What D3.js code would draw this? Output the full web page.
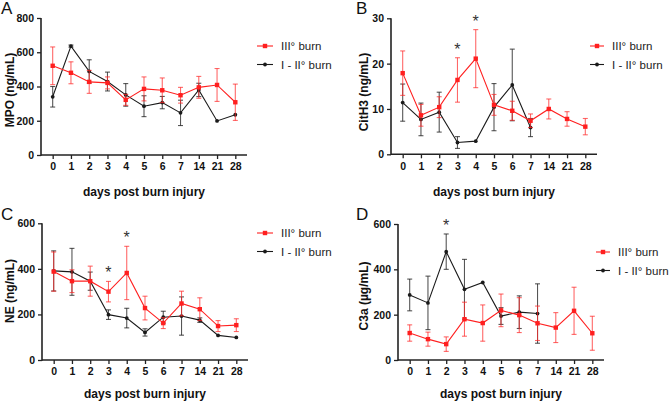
<!DOCTYPE html>
<html><head><meta charset="utf-8">
<script src="https://cdn.jsdelivr.net/npm/d3@7"></script>
<style>
body{margin:0;background:#fff;}
svg{display:block;font-family:"Liberation Sans",Arial,sans-serif;}
</style></head><body>
<svg id="chart" width="669" height="403"></svg>
<script>
// ---------- DATA ----------
const days = ["0","1","2","3","4","5","6","7","14","21","28"];
const seriesNames = ["III° burn", "I - II° burn"];
const xTitle = "days post burn injury";

// A: MPO (ng/mL)
const mpoIII    = [521, 480, 427, 421, 322, 386, 378, 349, 395, 409, 308];
const mpoIIIErr = [110,  64,  67,  35,  32,  70,  72,  46,  64,  96, 106];
const mpoI      = [340, 636, 488, 429, 351, 285, 306, 246, 380, 199, 235];
const mpoIErr   = [ 60,   6,  68,  55,  66,  61,  36,  74,  39,   0,   0];
const mpoTicks  = [0, 200, 400, 600, 800];

// B: CitH3 (ng/mL)
const cit3III    = [17.9, 8.6, 10.4, 16.4, 21.1, 10.9, 9.6, 7.4, 10.0, 7.8, 6.1];
const cit3IIIErr = [ 4.9, 2.4,  2.3,  4.9,  6.4,  2.3, 2.1, 1.5,  2.2, 1.6, 1.8];
const cit3I      = [11.4, 7.7,  9.3,  2.6,  2.9, 10.4, 15.3, 5.9, null, null, null];
const cit3IErr   = [ 4.1, 3.6,  4.4,  1.3,  0,    5.2,  7.9, 2.0, null, null, null];
const cit3Ticks  = [0, 10, 20, 30];

// C: NE (ng/mL)
const neIII    = [388, 346, 346, 300, 382, 228, 162, 248, 223, 149, 153];
const neIIIErr = [ 86,  50,  66,  45, 117,  52,  24,  54,  50,  24,  28];
const neI      = [391, 387, 346, 199, 184, 121, 188, 193, 175, 108,  99];
const neIErr   = [ 88, 103,  40,  21,  43,  16,  26,  84,  10,   0,   0];
const neTicks  = [0, 200, 400, 600];

// D: C3a (µg/mL)
const c3aIII    = [119,  92,  70, 180, 163, 219, 198, 162, 143, 217, 118];
const c3aIIIErr = [ 36,  31,  32,  75,  80,  72,  77,  76,  66, 104,  75];
const c3aI      = [287, 252, 478, 312, 342, 194, 211, 205, null, null, null];
const c3aIErr   = [ 70, 118,  78, 132,   0,  37,  72, 131, null, null, null];
const c3aTicks  = [0, 200, 400, 600];

// significance markers
const sigB = ["3", "4"];
const sigC = ["3", "4"];
const sigD = ["2"];

// ---------- LAYOUT ----------
const RED = "#ff1f1f", RED_ERR = "rgba(255,40,40,0.7)";
const BLK = "#1a1a1a", BLK_ERR = "rgba(30,30,30,0.75)";
const svg = d3.select("#chart");

const panels = [
  {letter:"A", lx:1,   ly:14,  x0:41,  x1:247, yTop:18,   yBot:155, ymax:800, ticks:mpoTicks,
   title:"MPO (ng/mL)", tx:10, ty:90,
   red:mpoIII, redErr:mpoIIIErr, blk:mpoI, blkErr:mpoIErr, sig:[],
   legX:257, legY:46, xlabY:196},
  {letter:"B", lx:356, ly:14,  x0:391, x1:597, yTop:18.3, yBot:154.3, ymax:30, ticks:cit3Ticks,
   title:"CitH3 (ng/mL)", tx:364, ty:92,
   red:cit3III, redErr:cit3IIIErr, blk:cit3I, blkErr:cit3IErr, sig:sigB,
   legX:590, legY:46, legLen:14, xlabY:196},
  {letter:"C", lx:1,   ly:220, x0:42,  x1:248, yTop:223.3, yBot:360, ymax:600, ticks:neTicks,
   title:"NE (ng/mL)", tx:10, ty:291,
   red:neIII, redErr:neIIIErr, blk:neI, blkErr:neIErr, sig:sigC,
   legX:257, legY:233, xlabY:398},
  {letter:"D", lx:356, ly:220, x0:398, x1:604, yTop:224, yBot:360, ymax:600, ticks:c3aTicks,
   title:"C3a (µg/mL)", tx:364, ty:296,
   red:c3aIII, redErr:c3aIIIErr, blk:c3aI, blkErr:c3aIErr, sig:sigD,
   legX:596, legY:252, legLen:14, xlabY:398}
];

panels.forEach(p => {
  const g = svg.append("g");
  const x = d3.scalePoint().domain(days).range([p.x0, p.x1]).padding(0.64);
  const y = d3.scaleLinear().domain([0, p.ymax]).range([p.yBot, p.yTop]);

  // panel letter
  g.append("text").attr("x", p.lx).attr("y", p.ly).attr("font-size", 17)
    .attr("fill", "#111").text(p.letter);

  // axes
  const ya = g.append("g").attr("transform", `translate(${p.x0},0)`)
    .call(d3.axisLeft(y).tickValues(p.ticks).tickSize(4).tickSizeOuter(0).tickPadding(3));
  const xa = g.append("g").attr("transform", `translate(0,${p.yBot})`)
    .call(d3.axisBottom(x).tickSize(4).tickSizeOuter(0).tickPadding(4));
  [ya, xa].forEach(a => {
    a.select(".domain").attr("stroke", "#222").attr("stroke-width", 1.6);
    a.selectAll(".tick line").attr("stroke", "#222").attr("stroke-width", 1.3);
    a.selectAll(".tick text").attr("font-size", 10.5).attr("font-weight", "bold")
      .attr("fill", "#111").attr("font-family", "Liberation Sans, Arial, sans-serif");
  });
  ya.select(".domain").attr("d", `M0,${p.yBot + 0.8}V${p.yTop}`);
  xa.select(".domain").attr("d", `M${p.x0},0H${p.x1}`);

  // axis titles
  g.append("text").attr("transform", `translate(${p.tx},${p.ty}) rotate(-90)`)
    .attr("text-anchor", "middle").attr("dominant-baseline", "central")
    .attr("font-size", 12).attr("font-weight", "bold").attr("fill", "#111").text(p.title);
  g.append("text").attr("x", (p.x0 + p.x1) / 2).attr("y", p.xlabY)
    .attr("text-anchor", "middle").attr("font-size", 12).attr("font-weight", "bold")
    .attr("fill", "#111").text(xTitle);

  // series
  const drawSeries = (vals, errs, color, errColor, marker) => {
    const pts = days.map((d, i) => ({d, v: vals[i], e: errs[i]})).filter(o => o.v != null);
    // error bars
    const eb = g.append("g").attr("stroke", errColor).attr("stroke-width", 1.1);
    pts.filter(o => o.e > 0).forEach(o => {
      const cx = x(o.d), t = y(o.v + o.e), b = y(Math.max(0, o.v - o.e));
      eb.append("line").attr("x1", cx).attr("x2", cx).attr("y1", t).attr("y2", b);
      eb.append("line").attr("x1", cx - 2.5).attr("x2", cx + 2.5).attr("y1", t).attr("y2", t);
      eb.append("line").attr("x1", cx - 2.5).attr("x2", cx + 2.5).attr("y1", b).attr("y2", b);
    });
    g.append("path").datum(pts)
      .attr("d", d3.line().x(o => x(o.d)).y(o => y(o.v)))
      .attr("fill", "none").attr("stroke", color).attr("stroke-width", 1.1);
    if (marker === "square") {
      g.selectAll(null).data(pts).enter().append("rect")
        .attr("x", o => x(o.d) - 2.2).attr("y", o => y(o.v) - 2.2)
        .attr("width", 4.4).attr("height", 4.4).attr("fill", color);
    } else {
      g.selectAll(null).data(pts).enter().append("circle")
        .attr("cx", o => x(o.d)).attr("cy", o => y(o.v)).attr("r", 1.9).attr("fill", color);
    }
  };
  drawSeries(p.blk, p.blkErr, BLK, BLK_ERR, "circle");
  drawSeries(p.red, p.redErr, RED, RED_ERR, "square");

  // significance asterisks
  p.sig.forEach(d => {
    const i = days.indexOf(d);
    const top = Math.max(
      (p.red[i] ?? 0) + (p.redErr[i] ?? 0),
      (p.blk[i] ?? 0) + (p.blkErr[i] ?? 0));
    g.append("text").attr("x", x(d)).attr("y", y(top) - 3)
      .attr("text-anchor", "middle").attr("font-size", 16).attr("fill", "#333").text("*");
  });

  // legend
  const L = p.legLen || 16;
  [[RED, "square", seriesNames[0]], [BLK, "circle", seriesNames[1]]].forEach((s, k) => {
    const ly = p.legY + k * 18.5;
    g.append("line").attr("x1", p.legX).attr("x2", p.legX + L).attr("y1", ly).attr("y2", ly)
      .attr("stroke", s[0]).attr("stroke-width", 1.1);
    if (s[1] === "square")
      g.append("rect").attr("x", p.legX + L / 2 - 2.2).attr("y", ly - 2.2)
        .attr("width", 4.4).attr("height", 4.4).attr("fill", s[0]);
    else
      g.append("circle").attr("cx", p.legX + L / 2).attr("cy", ly).attr("r", 1.9).attr("fill", s[0]);
    g.append("text").attr("x", p.legX + L + 8).attr("y", ly).attr("dominant-baseline", "central")
      .attr("font-size", 11.5).attr("fill", "#222").text(s[2]);
  });
});
</script>
</body></html>
